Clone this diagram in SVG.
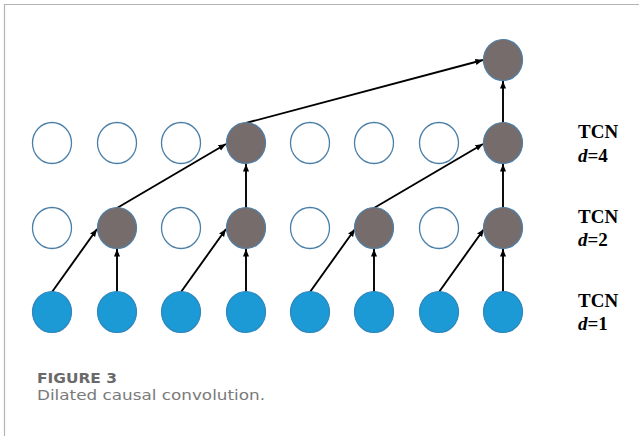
<svg xmlns="http://www.w3.org/2000/svg" width="639" height="436" viewBox="0 0 639 436">
<defs>
<marker id="ah" viewBox="0 0 10 10" refX="10" refY="5" markerWidth="4" markerHeight="4" orient="auto" markerUnits="strokeWidth">
<path d="M0,1 L10,5 L0,9 z" fill="#000"/>
</marker>
<style>
.e{fill:#fff;stroke:#4a7fa8;stroke-width:1.3}
.g{fill:#766c6c;stroke:#4f7ea6;stroke-width:1.2}
.b{fill:#1b9ad6;stroke:#2d86bd;stroke-width:1.2}
.c{stroke:#000;stroke-width:1.9;fill:none;marker-end:url(#ah)}
.t{font-family:"Liberation Serif",serif;font-weight:bold;font-size:19px;fill:#000}
.cap1{font-family:"DejaVu Sans",sans-serif;font-weight:bold;font-size:14px;fill:#6a6a6a}
.cap2{font-family:"DejaVu Sans",sans-serif;font-size:14.5px;fill:#7a7a7a}
</style>
</defs>
<rect width="639" height="436" fill="#fff"/>
<path d="M4.5,436 V4.5 H639" fill="none" stroke="#b4b4b4" stroke-width="1.2"/>

<g id="connectors">
<line class="c" x1="52" y1="292" x2="97" y2="229"/>
<line class="c" x1="117" y1="292" x2="117" y2="249"/>
<line class="c" x1="181" y1="292" x2="226" y2="229"/>
<line class="c" x1="246" y1="292" x2="246" y2="249"/>
<line class="c" x1="310" y1="292" x2="355" y2="229"/>
<line class="c" x1="374" y1="292" x2="374" y2="249"/>
<line class="c" x1="439" y1="292" x2="484" y2="229"/>
<line class="c" x1="503" y1="292" x2="503" y2="249"/>
<line class="c" x1="117" y1="208" x2="226" y2="144"/>
<line class="c" x1="246" y1="208" x2="246" y2="164"/>
<line class="c" x1="374" y1="208" x2="483" y2="144"/>
<line class="c" x1="503" y1="208" x2="503" y2="164"/>
<line class="c" x1="246" y1="123" x2="483" y2="60"/>
<line class="c" x1="503" y1="123" x2="503" y2="81"/>
</g>

<g id="layer-d4">
<g id="n4-0"><ellipse class="e" cx="52" cy="143" rx="19.5" ry="20.5"/></g>
<g id="n4-1"><ellipse class="e" cx="117" cy="143" rx="19.5" ry="20.5"/></g>
<g id="n4-2"><ellipse class="e" cx="181" cy="143" rx="19.5" ry="20.5"/></g>
<g id="n4-3"><ellipse class="g" cx="246" cy="143" rx="19.5" ry="20.5"/></g>
<g id="n4-4"><ellipse class="e" cx="310" cy="143" rx="19.5" ry="20.5"/></g>
<g id="n4-5"><ellipse class="e" cx="374" cy="143" rx="19.5" ry="20.5"/></g>
<g id="n4-6"><ellipse class="e" cx="439" cy="143" rx="19.5" ry="20.5"/></g>
<g id="n4-7"><ellipse class="g" cx="503" cy="143" rx="19.5" ry="20.5"/></g>
</g>
<g id="layer-d2">
<g id="n2-0"><ellipse class="e" cx="52" cy="228" rx="19.5" ry="20.5"/></g>
<g id="n2-1"><ellipse class="g" cx="117" cy="228" rx="19.5" ry="20.5"/></g>
<g id="n2-2"><ellipse class="e" cx="181" cy="228" rx="19.5" ry="20.5"/></g>
<g id="n2-3"><ellipse class="g" cx="246" cy="228" rx="19.5" ry="20.5"/></g>
<g id="n2-4"><ellipse class="e" cx="310" cy="228" rx="19.5" ry="20.5"/></g>
<g id="n2-5"><ellipse class="g" cx="374" cy="228" rx="19.5" ry="20.5"/></g>
<g id="n2-6"><ellipse class="e" cx="439" cy="228" rx="19.5" ry="20.5"/></g>
<g id="n2-7"><ellipse class="g" cx="503" cy="228" rx="19.5" ry="20.5"/></g>
</g>
<g id="layer-d1">
<g id="n1-0"><ellipse class="b" cx="52" cy="312" rx="19.5" ry="20.5"/></g>
<g id="n1-1"><ellipse class="b" cx="117" cy="312" rx="19.5" ry="20.5"/></g>
<g id="n1-2"><ellipse class="b" cx="181" cy="312" rx="19.5" ry="20.5"/></g>
<g id="n1-3"><ellipse class="b" cx="246" cy="312" rx="19.5" ry="20.5"/></g>
<g id="n1-4"><ellipse class="b" cx="310" cy="312" rx="19.5" ry="20.5"/></g>
<g id="n1-5"><ellipse class="b" cx="374" cy="312" rx="19.5" ry="20.5"/></g>
<g id="n1-6"><ellipse class="b" cx="439" cy="312" rx="19.5" ry="20.5"/></g>
<g id="n1-7"><ellipse class="b" cx="503" cy="312" rx="19.5" ry="20.5"/></g>
</g>
<g id="output"><ellipse class="g" cx="503" cy="60" rx="19.5" ry="20.5"/></g>

<g id="labels">
<text class="t" x="578" y="138">TCN</text>
<text class="t" x="578" y="162"><tspan font-style="italic">d</tspan>=4</text>
<text class="t" x="578" y="223">TCN</text>
<text class="t" x="578" y="246"><tspan font-style="italic">d</tspan>=2</text>
<text class="t" x="578" y="307">TCN</text>
<text class="t" x="578" y="330"><tspan font-style="italic">d</tspan>=1</text>
</g>

<g id="caption">
<text class="cap1" x="37" y="383" textLength="80" lengthAdjust="spacingAndGlyphs">FIGURE 3</text>
<text class="cap2" x="37" y="400" textLength="228" lengthAdjust="spacingAndGlyphs">Dilated causal convolution.</text>
</g>
</svg>
